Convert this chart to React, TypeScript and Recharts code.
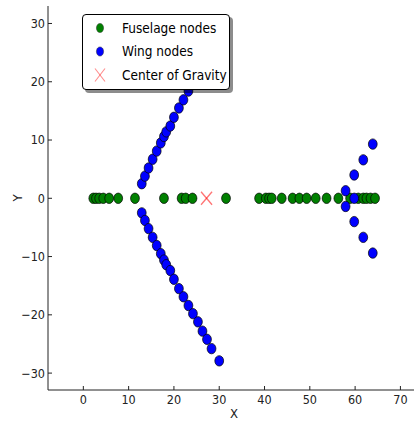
import React from 'react';
import { ScatterChart, Scatter, XAxis, YAxis } from 'recharts';

const xTicks = [0, 10, 20, 30, 40, 50, 60, 70];
const yTicks = [-30, -20, -10, 0, 10, 20, 30];
const xDomain = [-7.8, 73.0];
const yDomain = [-32.9, 33];

const fuselageX = [2.2, 2.8, 3.5, 4.4, 5.7, 7.7, 11.4, 17.8, 21.7, 22.6, 24.1, 31.5, 38.8, 40.3, 41.0, 41.6, 43.8, 46.2, 47.7, 49.3, 51.3, 53.7, 56.3, 58.9, 60.7, 61.8, 62.5, 63.4, 64.4];
const fuselageY = [0, 0, 0, 0, 0, 0, 0, 0, 0, 0, 0, 0, 0, 0, 0, 0, 0, 0, 0, 0, 0, 0, 0, 0, 0, 0, 0, 0, 0];

const wingX = [
  12.9, 13.6, 14.4, 15.3, 16.2, 17.1, 17.8, 18.3, 19.2, 20.0, 21.1, 22.1, 23.2, 24.2, 25.3, 26.3, 27.3, 28.3, 30.0,
  12.9, 13.6, 14.4, 15.3, 16.2, 17.1, 17.8, 18.3, 19.2, 20.0, 21.1, 22.1, 23.2, 24.2, 25.3, 26.3, 27.3, 28.3, 30.0,
  57.9, 57.9, 59.8, 59.8, 59.8, 61.8, 61.8, 63.9, 63.9,
];
const wingY = [
  2.5, 3.8, 5.2, 6.7, 8.1, 9.5, 10.6, 11.4, 12.4, 13.9, 15.5, 16.9, 18.4, 19.8, 21.2, 22.8, 24.2, 25.8, 27.9,
  -2.5, -3.8, -5.2, -6.7, -8.1, -9.5, -10.6, -11.4, -12.4, -13.9, -15.5, -16.9, -18.4, -19.8, -21.2, -22.8, -24.2, -25.8, -27.9,
  1.3, -1.4, 4.0, 0, -4.0, 6.6, -6.7, 9.3, -9.4,
];

const cgX = [27.2];
const cgY = [0];

const legendLabels = ['Fuselage nodes', 'Wing nodes', 'Center of Gravity'];

const fuselageData = fuselageX.map((x, i) => ({ x, y: fuselageY[i] }));
const wingData = wingX.map((x, i) => ({ x, y: wingY[i] }));
const cgData = cgX.map((x, i) => ({ x, y: cgY[i] }));

const FONT = "'DejaVu Sans Condensed', 'DejaVu Sans', sans-serif";
const GREEN = '#008000';
const BLUE = '#0000ff';
const CG_RED = 'rgba(255,0,0,0.55)';

const makeEllipse = (fill: string) => (props: any) => {
  const { cx, cy } = props;
  if (cx == null || cy == null) return <g />;
  return <ellipse cx={cx} cy={cy} rx={4.4} ry={5.2} fill={fill} stroke="#000" strokeWidth={0.7} />;
};

const CrossShape = (props: any) => {
  const { cx, cy } = props;
  if (cx == null || cy == null) return <g />;
  const w = 5.5;
  const h = 6.5;
  return (
    <g stroke={CG_RED} strokeWidth={1.3}>
      <line x1={cx - w} y1={cy - h} x2={cx + w} y2={cy + h} />
      <line x1={cx - w} y1={cy + h} x2={cx + w} y2={cy - h} />
    </g>
  );
};

const fmt = (v: number) => String(v).replace('-', '\u2212');

const Legend = () => (
  <div
    style={{
      position: 'absolute',
      left: 82,
      top: 14,
      width: 146,
      height: 74,
      border: '1px solid #000',
      borderRadius: 4,
      background: '#fff',
      boxShadow: '3px 3px 0 rgba(0,0,0,0.45)',
    }}
  >
    <svg width={146} height={74} style={{ display: 'block' }}>
      <ellipse cx={17} cy={13} rx={3.6} ry={4.6} fill={GREEN} stroke="#333" strokeWidth={0.5} />
      <ellipse cx={17} cy={36.5} rx={3.6} ry={4.6} fill={BLUE} stroke="#333" strokeWidth={0.5} />
      <g stroke="rgba(255,0,0,0.45)" strokeWidth={1.1}>
        <line x1={12} y1={53.5} x2={22} y2={66.5} />
        <line x1={12} y1={66.5} x2={22} y2={53.5} />
      </g>
      {legendLabels.map((t, i) => (
        <text
          key={t}
          x={39}
          y={13 + i * 23.5}
          dy="0.36em"
          fontFamily={FONT}
          fontSize={13.5}
          fill="#000"
        >
          {t}
        </text>
      ))}
    </svg>
  </div>
);

export default function App() {
  return (
    <div style={{ position: 'absolute', left: 0, top: 0, width: 414, height: 423, background: '#fff', fontFamily: FONT }}>
      <ScatterChart width={414} height={423} margin={{ top: 6, right: 0, bottom: 0, left: 0 }}>
        <XAxis
          xAxisId="top"
          orientation="top"
          type="number"
          dataKey="x"
          domain={xDomain}
          allowDataOverflow
          ticks={xTicks}
          interval={0}
          height={0}
          tickSize={-4}
          tickFormatter={() => ''}
          axisLine={{ stroke: '#222', strokeWidth: 1 }}
          tickLine={{ stroke: '#222' }}
        />
        <XAxis
          xAxisId="main"
          type="number"
          dataKey="x"
          domain={xDomain}
          allowDataOverflow
          ticks={xTicks}
          interval={0}
          height={33}
          tickSize={-4}
          tickMargin={9}
          tickFormatter={fmt}
          tick={{ fill: '#222', fontSize: 12.5, fontFamily: FONT }}
          axisLine={{ stroke: '#222', strokeWidth: 1 }}
          tickLine={{ stroke: '#222' }}
          label={{
            content: (p: any) => {
              const vb = p.viewBox || {};
              return (
                <text x={vb.x + vb.width / 2 + 3} y={vb.y + 28} textAnchor="middle" fontSize={13} fontFamily={FONT} fill="#222">
                  X
                </text>
              );
            },
          }}
        />
        <YAxis
          yAxisId="main"
          type="number"
          dataKey="y"
          domain={yDomain}
          allowDataOverflow
          ticks={yTicks}
          interval={0}
          width={48}
          tickSize={-4}
          tickMargin={7}
          tickFormatter={fmt}
          tick={{ fill: '#222', fontSize: 12.5, fontFamily: FONT }}
          axisLine={{ stroke: '#222', strokeWidth: 1 }}
          tickLine={{ stroke: '#222' }}
          label={{
            content: (p: any) => {
              const vb = p.viewBox || {};
              const x = vb.x + 17;
              const y = vb.y + vb.height / 2;
              return (
                <text x={x} y={y} transform={`rotate(-90 ${x} ${y})`} textAnchor="middle" dy="0.36em" fontSize={13} fontFamily={FONT} fill="#222">
                  Y
                </text>
              );
            },
          }}
        />
        <Scatter xAxisId="main" yAxisId="main" data={fuselageData} shape={makeEllipse(GREEN)} isAnimationActive={false} />
        <Scatter xAxisId="main" yAxisId="main" data={wingData} shape={makeEllipse(BLUE)} isAnimationActive={false} />
        <Scatter xAxisId="main" yAxisId="main" data={cgData} shape={CrossShape} isAnimationActive={false} />
      </ScatterChart>
      <Legend />
    </div>
  );
}
